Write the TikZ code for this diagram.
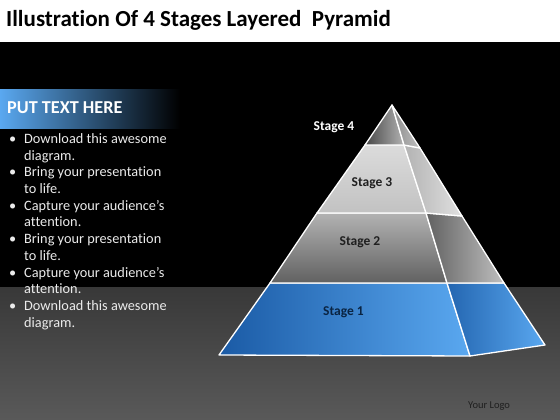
\documentclass[tikz,border=0pt]{standalone}
\usepackage{fontspec}
\setmainfont[Ligatures=NoCommon]{Carlito}
\definecolor{bluehi}{HTML}{5AA8F0}
\definecolor{bluelo}{HTML}{1A5AA5}
\begin{document}
\begin{tikzpicture}[x=1pt,y=-1pt,
  face/.style={draw=white,line width=1.3pt,line join=round},
  bul/.style={anchor=base west,text=white!92!black,font=\fontsize{14.3}{16}\selectfont,inner sep=0pt},
  stagelbl/.style={anchor=base,font=\bfseries\fontsize{13.5}{15}\selectfont,inner sep=0pt}]
\useasboundingbox (0,0) rectangle (560,420);
% background
\fill[white] (0,0) rectangle (560,42);
\fill[black] (0,42) rectangle (560,287);
\shade[top color=black!78,bottom color=black!65] (0,287) rectangle (560,420);
% title
\node[anchor=base west,inner sep=0pt,font=\bfseries\fontsize{23}{26}\selectfont] (title) at (6,27) {Illustration Of 4 Stages Layered\ \ Pyramid};
% banner
\shade[left color=bluehi,middle color=bluelo!80!black,right color=black] (0,90) rectangle (180,128);
\node[anchor=base west,inner sep=0pt,text=white,font=\bfseries\fontsize{18.2}{20}\selectfont] (banner) at (7,113.5) {PUT TEXT HERE};
% bullets
\foreach \t/\y [count=\i] in {Download this awesome/143, Bring your presentation/176.5, Capture your audience’s/210, Bring your presentation/243.5, Capture your audience’s/277, Download this awesome/310.5}{
  \node[bul] (b\i) at (9,\y) {•};
  \node[bul] (l\i) at (24,\y) {\t};
}
\foreach \t/\y [count=\i] in {diagram./160, to life./193, attention./226.5, to life./260, attention./293.5, diagram./327}{
  \node[bul] (m\i) at (24,\y) {\t};
}
% pyramid coordinates
\coordinate (A) at (392,105);
\coordinate (L0) at (219,355); \coordinate (F0) at (470,356); \coordinate (R0) at (545,345);
\coordinate (L1) at (270,283); \coordinate (F1) at (447,283); \coordinate (R1) at (504,283);
\coordinate (L2) at (317,213); \coordinate (F2) at (426,213); \coordinate (R2) at (462,216);
\coordinate (L3) at (365,145); \coordinate (F3) at (404,145); \coordinate (R3) at (420,148);
% stage 1
\shade[face,shading angle=45,left color=bluelo,right color=bluehi] (L0) -- (F0) -- (F1) -- (L1) -- cycle;
\shade[face,left color=bluelo!85!bluehi,right color=bluehi] (F0) -- (R0) -- (R1) -- (F1) -- cycle;
% stage 2
\shade[face,top color=black!30,bottom color=black!62] (L1) -- (F1) -- (F2) -- (L2) -- cycle;
\shade[face,left color=black!62,right color=black!25] (F1) -- (R1) -- (R2) -- (F2) -- cycle;
% stage 3
\shade[face,top color=black!14,bottom color=black!24] (L2) -- (F2) -- (F3) -- (L3) -- cycle;
\shade[face,left color=black!30,right color=black!12] (F2) -- (R2) -- (R3) -- (F3) -- cycle;
% stage 4
\shade[face,shading angle=45,left color=black!72,right color=black!30] (L3) -- (F3) -- (A) -- cycle;
\shade[face,left color=black!45,right color=black!25] (F3) -- (R3) -- (A) -- cycle;
% labels
\node[stagelbl,text=white] (s4) at (334,130) {Stage 4};
\node[stagelbl,text=black!88] (s3) at (372,186.5) {Stage 3};
\node[stagelbl,text=black!88] (s2) at (360,245) {Stage 2};
\node[stagelbl,text=bluelo!40!black] (s1) at (343.5,315) {Stage 1};
\node[anchor=base west,inner sep=0pt,text=black!88,font=\fontsize{10.5}{12}\selectfont] (logo) at (468,408) {Your Logo};
\end{tikzpicture}
\end{document}
